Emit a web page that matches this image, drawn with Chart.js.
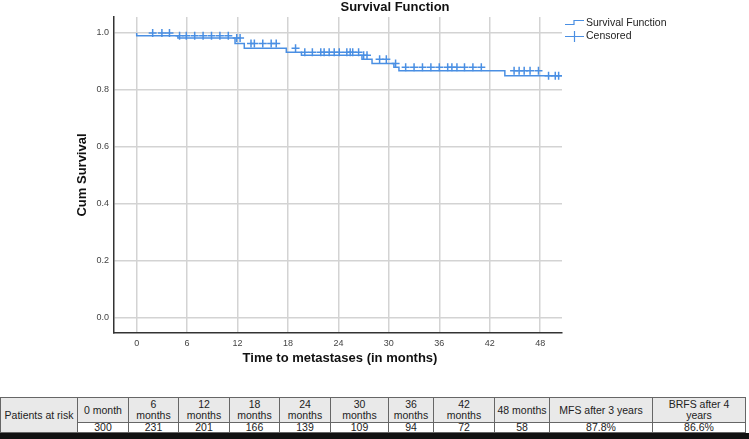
<!DOCTYPE html>
<html><head><meta charset="utf-8">
<script src="https://cdn.jsdelivr.net/npm/chart.js@4/dist/chart.umd.min.js"></script>
<style>
html,body{margin:0;padding:0;background:#fff}
body{width:749px;height:439px;overflow:hidden;position:relative;font-family:"Liberation Sans",Arial,sans-serif}
#c{position:absolute;left:0;top:0}
table{position:absolute;left:0;top:397px;width:745px;border-collapse:collapse;table-layout:fixed;font-size:10.5px;color:#222}
td{border:1px solid #666;text-align:center;padding:0;line-height:11px;overflow:hidden;white-space:nowrap}
tr.h td{background:#e9e9e9;height:24px}
tr.d td{height:9px;line-height:9px}
td.lab{background:#e9e9e9}
#band{position:absolute;left:0;top:433px;width:749px;height:6px;background:#111}
</style></head>
<body>
<canvas id="c" width="749" height="395"></canvas>
<table id="t"></table>
<div id="band"></div>
<script>
// ---- data ----
const kmTimes    = [0, 4.9, 11.7, 12.8, 17.8, 19.6, 26.8, 28.0, 30.6, 31.2, 43.8, 48.4, 50.6];
const kmSurvival = [1.0, 0.990, 0.982, 0.963, 0.946, 0.932, 0.922, 0.908, 0.893, 0.880, 0.867, 0.850, 0.850];

const censorTimes    = [1.9, 3.0, 3.9,
  5.1, 5.9, 6.9, 7.9, 8.9, 9.9, 10.9,
  11.9, 12.3,
  13.6, 14.0, 15.0, 16.0, 16.6,
  18.9,
  20.0, 20.9, 21.9, 22.3, 22.9, 23.5, 24.1, 25.0, 25.4, 25.7, 26.4,
  27.0, 27.4,
  28.9, 29.7,
  30.8,
  32.0, 33.0, 34.0, 35.0, 36.0, 37.0, 37.5, 38.1, 39.0, 40.0, 41.0,
  44.9, 45.5, 46.1, 46.8, 47.8,
  49.0, 49.8, 50.2];
const censorSurvival = [1.0, 1.0, 1.0,
  0.990, 0.990, 0.990, 0.990, 0.990, 0.990, 0.990,
  0.982, 0.982,
  0.963, 0.963, 0.963, 0.963, 0.963,
  0.946,
  0.932, 0.932, 0.932, 0.932, 0.932, 0.932, 0.932, 0.932, 0.932, 0.932, 0.932,
  0.922, 0.922,
  0.908, 0.908,
  0.893,
  0.880, 0.880, 0.880, 0.880, 0.880, 0.880, 0.880, 0.880, 0.880, 0.880, 0.880,
  0.867, 0.867, 0.867, 0.867, 0.867,
  0.850, 0.850, 0.850];

const xTickValues = [0, 6, 12, 18, 24, 30, 36, 42, 48];
const yTickValues = [0, 0.2, 0.4, 0.6, 0.8, 1.0];

const chartTitle = "Survival Function";
const xTitle = "Time to metastases (in months)";
const yTitle = "Cum Survival";
const legendLabels = ["Survival Function", "Censored"];

const riskHeaderLabel = "Patients at risk";
const riskHeaders = ["0 month", "6<br>months", "12<br>months", "18<br>months", "24<br>months", "30<br>months", "36<br>months", "42<br>months", "48 months", "MFS after 3 years", "BRFS after 4<br>years"];
const riskValues  = ["300", "231", "201", "166", "139", "109", "94", "72", "58", "87.8%", "86.6%"];
const colWidths = [77, 51, 50, 51, 50, 51, 58, 45, 61, 55, 103, 93];

// ---- table ----
(function(){
  const t = document.getElementById('t');
  let cg = '<colgroup>' + colWidths.map(w => '<col style="width:' + w + 'px">').join('') + '</colgroup>';
  let h = '<tr class="h"><td class="lab" rowspan="2">' + riskHeaderLabel + '</td>' +
          riskHeaders.map(s => '<td>' + s + '</td>').join('') + '</tr>';
  let d = '<tr class="d">' + riskValues.map(s => '<td>' + s + '</td>').join('') + '</tr>';
  t.innerHTML = cg + h + d;
})();

// ---- chart ----
const BLUE = '#4a8fe3';
Chart.defaults.font.family = '"Liberation Sans", Arial, sans-serif';

const decor = {
  id: 'decor',
  afterDraw(chart) {
    const ctx = chart.ctx;
    const a = chart.chartArea;
    ctx.save();
    ctx.fillStyle = '#111';
    ctx.textBaseline = 'middle';
    ctx.textAlign = 'center';
    ctx.font = 'bold 13px "Liberation Sans", Arial, sans-serif';
    ctx.fillText(chartTitle, 395, 7);
    ctx.fillText(xTitle, 340, 358);
    ctx.save();
    ctx.translate(82, 175);
    ctx.rotate(-Math.PI / 2);
    ctx.fillText(yTitle, 0, 0);
    ctx.restore();
    // legend
    const lx = a.right + 3;
    ctx.strokeStyle = BLUE;
    ctx.lineWidth = 1.2;
    ctx.beginPath();
    ctx.moveTo(lx, 24.5); ctx.lineTo(lx + 9, 24.5); ctx.lineTo(lx + 9, 20.5); ctx.lineTo(lx + 19, 20.5);
    ctx.stroke();
    ctx.beginPath();
    ctx.moveTo(lx, 36.5); ctx.lineTo(lx + 19, 36.5);
    ctx.moveTo(lx + 9.5, 31); ctx.lineTo(lx + 9.5, 42);
    ctx.stroke();
    ctx.fillStyle = '#222';
    ctx.textAlign = 'left';
    ctx.font = '10.5px "Liberation Sans", Arial, sans-serif';
    ctx.fillText(legendLabels[0], lx + 21, 23.5);
    ctx.fillText(legendLabels[1], lx + 21, 36.5);
    ctx.restore();
  }
};

new Chart(document.getElementById('c'), {
  type: 'line',
  data: {
    datasets: [
      {
        label: legendLabels[0],
        data: kmTimes.map((t, i) => ({x: t, y: kmSurvival[i]})),
        stepped: 'after',
        borderColor: BLUE,
        borderWidth: 1.5,
        pointRadius: 0,
        fill: false
      },
      {
        label: legendLabels[1],
        data: censorTimes.map((t, i) => ({x: t, y: censorSurvival[i]})),
        showLine: false,
        pointStyle: 'cross',
        pointRadius: 4,
        pointBorderWidth: 1.5,
        borderColor: BLUE,
        backgroundColor: BLUE
      }
    ]
  },
  options: {
    responsive: false,
    animation: false,
    devicePixelRatio: 1,
    layout: {padding: {top: 17, right: 187, left: 0, bottom: 0}},
    plugins: {legend: {display: false}, title: {display: false}, tooltip: {enabled: false}},
    scales: {
      x: {
        type: 'linear', min: -2.7, max: 50.6,
        afterBuildTicks: s => { s.ticks = xTickValues.map(v => ({value: v})); },
        afterFit: s => { s.height = 62; },
        ticks: {font: {size: 9}, color: '#444', padding: 5, maxRotation: 0, autoSkip: false},
        grid: {color: '#d3d3d3', lineWidth: 1.5, drawTicks: false},
        border: {display: true, color: '#333', width: 1.5}
      },
      y: {
        type: 'linear', min: -0.053, max: 1.056,
        afterBuildTicks: s => { s.ticks = yTickValues.map(v => ({value: v})); },
        afterFit: s => { s.width = 114; },
        ticks: {font: {size: 9}, color: '#444', padding: 5, callback: v => Number(v).toFixed(1)},
        grid: {color: '#d3d3d3', lineWidth: 1.5, drawTicks: false},
        border: {display: true, color: '#333', width: 1.5}
      }
    }
  },
  plugins: [decor]
});
</script>
</body></html>
